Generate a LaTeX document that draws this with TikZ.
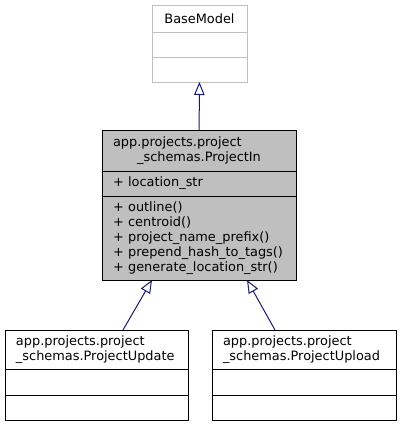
\documentclass[tikz,border=0pt]{standalone}
\usepackage{fontspec}
\setmainfont{DejaVu Sans}
\usetikzlibrary{arrows.meta, positioning}

\definecolor{edgeblue}{HTML}{191970}
\definecolor{grey75}{HTML}{BFBFBF}

\begin{document}
\begin{tikzpicture}[x=1pt, y=-1pt, node distance=0pt,
	cls/.style={rectangle, draw=black, line width=0.9pt, inner xsep=11pt, inner ysep=0pt, outer sep=0pt, align=left, font=\fontsize{12.9}{15}\selectfont},
	extcls/.style={cls, draw=grey75},
	focus/.style={cls, fill=grey75},
	inh/.style={draw=edgeblue, line width=1pt, -{Triangle[open, length=13pt, width=10.5pt]}}]

	\useasboundingbox (0,0) rectangle (400,427);

		% base class
		\node[extcls, text width=73pt, align=center, minimum height=27pt] (B0) at (199.5,18.5) 	{BaseModel};
		\node[extcls, text width=73pt, minimum height=25pt] (B1) [below=of B0] 									{};
		\node[extcls, text width=73pt, minimum height=25pt] (B2) [below=of B1] 									{};

		% ProjectIn
		\node[focus, text width=172pt, minimum height=41pt] (P0) at (199,150.5) 	{app.projects.project\\\makebox[\hsize]{\_schemas.ProjectIn}};
		\node[focus, text width=172pt, minimum height=25pt] (P1) [below=of P0] 		{+ location\_str};
		\node[focus, text width=172pt, minimum height=84pt] (P2) [below=of P1] 		{+ outline()\\+ centroid()\\+ project\_name\_prefix()\\+ prepend\_hash\_to\_tags()\\+ generate\_location\_str()};

		% subclasses
		\node[cls, text width=161pt, minimum height=39pt] (U0) at (96.5,349.5) 	{app.projects.project\\\_schemas.ProjectUpdate};
		\node[cls, text width=161pt, minimum height=26pt] (U1) [below=of U0] 		{};
		\node[cls, text width=161pt, minimum height=25pt] (U2) [below=of U1] 		{};

		\node[cls, text width=162pt, minimum height=39pt] (L0) at (304,349.5) 	{app.projects.project\\\_schemas.ProjectUpload};
		\node[cls, text width=162pt, minimum height=26pt] (L1) [below=of L0] 		{};
		\node[cls, text width=162pt, minimum height=25pt] (L2) [below=of L1] 		{};

    \path (P0) edge[inh] (B2);
    \path ([xshift=26.5pt]U0.north) edge[inh] ([xshift=-47pt]P2.south);
    \path ([xshift=-29pt]L0.north) edge[inh] ([xshift=48pt]P2.south);

	\end{tikzpicture}
\end{document}
